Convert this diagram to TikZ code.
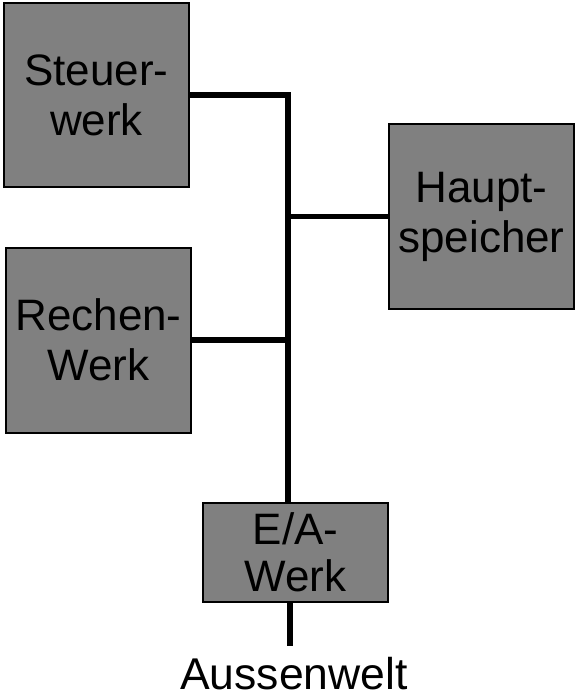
\documentclass[tikz,border=0pt]{standalone}
\usepackage{fontspec}
\setmainfont{Liberation Sans}
\begin{document}
\begin{tikzpicture}[x=1pt,y=-1pt,
  unit/.style={draw=black, line width=2pt, fill={rgb,255:red,128;green,128;blue,128},
    inner sep=0pt, align=center, font=\fontsize{44}{50}\selectfont},
  bus/.style={line width=5.5pt, line join=miter}]
\useasboundingbox (0,0) rectangle (579,698);
\node[unit, minimum width=185pt, minimum height=184pt] (S) at (96.5,95) {Steuer-\\werk};
\node[unit, minimum width=185pt, minimum height=185pt] (H) at (481.5,216.5) {Haupt-\\speicher};
\node[unit, minimum width=185pt, minimum height=185pt] (R) at (98.5,340) {Rechen-\\Werk};
\node[unit, minimum width=185pt, minimum height=99pt, font=\fontsize{44}{47}\selectfont] (EA) at (295.5,552.5) {E/A-\\Werk};
\node[anchor=base, inner sep=0pt, font=\fontsize{44.5}{50}\selectfont] (AW) at (294,689) {Aussenwelt};
\coordinate (busx) at (288,0);
\coordinate (out) at (290,646);
\draw[bus] (S.east) -- (S.east -| busx) -- (EA.north -| busx);
\draw[bus] (H.west -| busx) -- (H.west);
\draw[bus] (R.east) -- (R.east -| busx);
\draw[bus] (EA.south -| out) -- (out);
\end{tikzpicture}
\end{document}
